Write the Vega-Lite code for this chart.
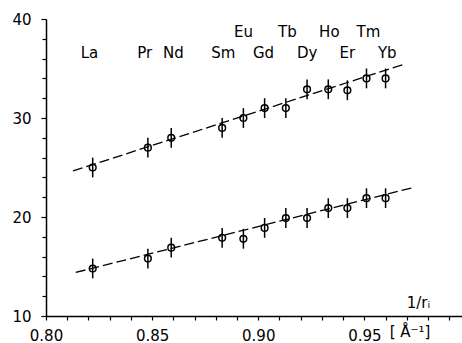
{
  "$schema": "https://vega.github.io/schema/vega-lite/v6.json",
  "width": 416,
  "height": 297,
  "autosize": {"type": "none"},
  "padding": {"left": 46, "top": 19, "right": 0, "bottom": 27},
  "background": "white",
  "config": {
    "view": {"stroke": null},
    "font": "DejaVu Sans",
    "axis": {
      "grid": false,
      "domainColor": "black",
      "domainWidth": 1.5,
      "tickColor": "black",
      "tickWidth": 1.2,
      "tickSize": 4,
      "labelColor": "black",
      "labelFont": "DejaVu Sans",
      "labelFontSize": 15
    }
  },
  "datasets": {
    "pts": [
      {"el": "La", "x": 0.822, "y": 25.0, "s": "a", "e": 1},
      {"el": "Pr", "x": 0.848, "y": 27.0, "s": "a", "e": 1},
      {"el": "Nd", "x": 0.859, "y": 28.0, "s": "a", "e": 1},
      {"el": "Sm", "x": 0.883, "y": 29.0, "s": "a", "e": 1},
      {"el": "Eu", "x": 0.893, "y": 30.0, "s": "a", "e": 1},
      {"el": "Gd", "x": 0.903, "y": 31.0, "s": "a", "e": 1},
      {"el": "Tb", "x": 0.913, "y": 31.0, "s": "a", "e": 1},
      {"el": "Dy", "x": 0.923, "y": 32.9, "s": "a", "e": 1},
      {"el": "Ho", "x": 0.933, "y": 32.9, "s": "a", "e": 1},
      {"el": "Er", "x": 0.942, "y": 32.8, "s": "a", "e": 1},
      {"el": "Tm", "x": 0.951, "y": 34.0, "s": "a", "e": 1},
      {"el": "Yb", "x": 0.960, "y": 34.0, "s": "a", "e": 1},
      {"el": "La", "x": 0.822, "y": 14.8, "s": "b", "e": 1},
      {"el": "Pr", "x": 0.848, "y": 15.8, "s": "b", "e": 1},
      {"el": "Nd", "x": 0.859, "y": 16.9, "s": "b", "e": 1},
      {"el": "Sm", "x": 0.883, "y": 17.9, "s": "b", "e": 1},
      {"el": "Eu", "x": 0.893, "y": 17.8, "s": "b", "e": 1},
      {"el": "Gd", "x": 0.903, "y": 18.9, "s": "b", "e": 1},
      {"el": "Tb", "x": 0.913, "y": 19.9, "s": "b", "e": 1},
      {"el": "Dy", "x": 0.923, "y": 19.9, "s": "b", "e": 1},
      {"el": "Ho", "x": 0.933, "y": 20.9, "s": "b", "e": 1},
      {"el": "Er", "x": 0.942, "y": 20.9, "s": "b", "e": 1},
      {"el": "Tm", "x": 0.951, "y": 21.9, "s": "b", "e": 1},
      {"el": "Yb", "x": 0.960, "y": 21.9, "s": "b", "e": 1}
    ],
    "labs": [
      {"el": "La", "x": 0.8205, "y": 36.6},
      {"el": "Pr", "x": 0.8465, "y": 36.6},
      {"el": "Nd", "x": 0.8600, "y": 36.6},
      {"el": "Sm", "x": 0.8835, "y": 36.6},
      {"el": "Eu", "x": 0.8930, "y": 38.7},
      {"el": "Gd", "x": 0.9025, "y": 36.6},
      {"el": "Tb", "x": 0.9137, "y": 38.7},
      {"el": "Dy", "x": 0.9231, "y": 36.6},
      {"el": "Ho", "x": 0.9335, "y": 38.7},
      {"el": "Er", "x": 0.9420, "y": 36.6},
      {"el": "Tm", "x": 0.9519, "y": 38.7},
      {"el": "Yb", "x": 0.9608, "y": 36.6}
    ],
    "fit": [
      {"s": "a", "x": 0.8127, "y": 24.65},
      {"s": "a", "x": 0.9690, "y": 35.45},
      {"s": "b", "x": 0.8140, "y": 14.4},
      {"s": "b", "x": 0.9735, "y": 23.0}
    ],
    "notes": [
      {"t": "1/rᵢ", "x": 0.9755, "y": 11.3},
      {"t": "[ Å⁻¹]", "x": 0.9715, "y": 8.35}
    ]
  },
  "resolve": {"axis": {"x": "independent", "y": "independent"}},
  "layer": [
    {
      "data": {"name": "fit"},
      "mark": {"type": "line", "color": "black", "strokeWidth": 1.3, "strokeDash": [10, 4]},
      "encoding": {
        "x": {"field": "x", "type": "quantitative", "title": null, "scale": {"domain": [0.8, 0.996], "nice": false, "zero": false},
          "axis": {
            "orient": "bottom",
            "values": [0.8, 0.85, 0.9, 0.95],
            "format": ".2f",
            "labelPadding": 8,
            "labelOverlap": false,
            "labelFlush": false
          }},
        "y": {"field": "y", "type": "quantitative", "title": null, "scale": {"domain": [10, 40], "nice": false, "zero": false},
          "axis": {
            "orient": "left",
            "values": [10, 20, 30, 40],
            "format": "d",
            "labelPadding": 10,
            "labelOverlap": false,
            "tickSize": 5,
            "labelFlush": false
          }},
        "detail": {"field": "s"}
      }
    },
    {
      "data": {"name": "pts"},
      "mark": {"type": "errorbar", "color": "black", "thickness": 1.5},
      "encoding": {
        "x": {"field": "x", "type": "quantitative", "title": null,
          "axis": {
            "orient": "bottom",
            "values": [0.81, 0.82, 0.83, 0.84, 0.86, 0.87, 0.88, 0.89, 0.91, 0.92, 0.93, 0.94, 0.96, 0.97, 0.98, 0.99],
            "labels": false,
            "domain": false
          }},
        "y": {"field": "y", "type": "quantitative", "title": null,
          "axis": {
            "orient": "left",
            "values": [12, 14, 16, 18, 22, 24, 26, 28, 32, 34, 36, 38],
            "labels": false,
            "domain": false,
            "tickSize": 4
          }},
        "yError": {"field": "e"}
      }
    },
    {
      "data": {"name": "pts"},
      "mark": {"type": "point", "shape": "circle", "filled": false, "stroke": "black", "strokeWidth": 1.5, "size": 45, "opacity": 1},
      "encoding": {
        "x": {"field": "x", "type": "quantitative", "axis": null},
        "y": {"field": "y", "type": "quantitative", "axis": null}
      }
    },
    {
      "data": {"name": "labs"},
      "mark": {"type": "text", "fontSize": 15, "color": "black", "baseline": "middle", "align": "center"},
      "encoding": {
        "x": {"field": "x", "type": "quantitative", "axis": null},
        "y": {"field": "y", "type": "quantitative", "axis": null},
        "text": {"field": "el"}
      }
    },
    {
      "data": {"name": "notes"},
      "mark": {"type": "text", "fontSize": 15, "color": "black", "baseline": "middle", "align": "center"},
      "encoding": {
        "x": {"field": "x", "type": "quantitative", "axis": null},
        "y": {"field": "y", "type": "quantitative", "axis": null},
        "text": {"field": "t"}
      }
    }
  ]
}
